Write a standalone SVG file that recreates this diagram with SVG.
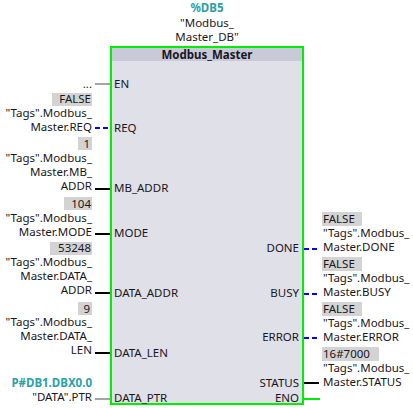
<svg xmlns="http://www.w3.org/2000/svg" width="413" height="408" viewBox="0 0 413 408">
<defs>
<linearGradient id="ulL" x1="0" y1="0" x2="1" y2="0"><stop offset="0" stop-color="#ffffff" stop-opacity="0.95"/><stop offset="1" stop-color="#ffffff" stop-opacity="0.2"/></linearGradient>
<linearGradient id="ulR" x1="0" y1="0" x2="1" y2="0"><stop offset="0" stop-color="#ffffff" stop-opacity="0.2"/><stop offset="1" stop-color="#ffffff" stop-opacity="0.95"/></linearGradient>
</defs>
<style>
text{font-family:"Noto Sans","DejaVu Sans",sans-serif;font-size:11.5px;fill:#1a1620}
.e{text-anchor:end}
.m{text-anchor:middle}
.t{fill:#2aa0aa;font-weight:bold}
.b{font-weight:bold}
.v{fill:#d3d3d3}
.blk{stroke:#000;stroke-width:2}
.gry{stroke:#a3a3a3;stroke-width:2}
.blu{stroke:#0000ff;stroke-width:2;stroke-dasharray:5,3}
.grn{stroke:#00ee00;stroke-width:2}
.ul{stroke-width:1}
</style>
<g id="block">
<rect x="111" y="47" width="192" height="357" fill="#dfe0e8" stroke="#00ee00" stroke-width="2"/>
<rect x="112" y="48" width="190" height="13" fill="#c9cad8"/>
<text class="m b" x="207" y="59">Modbus_Master</text>
<text class="m t" x="207" y="12">%DB5</text>
<text class="m" x="207" y="27">"Modbus_</text>
<text class="m" x="207" y="41">Master_DB"</text>
<text x="114" y="88">EN</text>
<line class="ul" x1="114" y1="91.5" x2="138" y2="91.5" stroke="url(#ulL)"/>
<text x="114" y="132">REQ</text>
<line class="ul" x1="114" y1="135.5" x2="140" y2="135.5" stroke="url(#ulL)"/>
<text x="114" y="192">MB_ADDR</text>
<line class="ul" x1="114" y1="195.5" x2="166" y2="195.5" stroke="url(#ulL)"/>
<text x="114" y="237">MODE</text>
<line class="ul" x1="114" y1="240.5" x2="148" y2="240.5" stroke="url(#ulL)"/>
<text x="114" y="297">DATA_ADDR</text>
<line class="ul" x1="114" y1="300.5" x2="176" y2="300.5" stroke="url(#ulL)"/>
<text x="114" y="357">DATA_LEN</text>
<line class="ul" x1="114" y1="360.5" x2="168" y2="360.5" stroke="url(#ulL)"/>
<text x="114" y="402">DATA_PTR</text>
<text class="e" x="299" y="252">DONE</text>
<line class="ul" x1="266" y1="256.5" x2="299" y2="256.5" stroke="url(#ulR)"/>
<text class="e" x="299" y="297">BUSY</text>
<line class="ul" x1="270" y1="300.5" x2="299" y2="300.5" stroke="url(#ulR)"/>
<text class="e" x="299" y="341">ERROR</text>
<line class="ul" x1="264" y1="345.5" x2="299" y2="345.5" stroke="url(#ulR)"/>
<text class="e" x="299" y="387">STATUS</text>
<line class="ul" x1="260" y1="391.5" x2="299" y2="391.5" stroke="url(#ulR)"/>
<text class="e" x="299" y="402">ENO</text>
</g>
<g id="in_EN"><text class="e" x="92" y="88">...</text></g>
<g id="in_REQ">
<rect class="v" x="52" y="93" width="40" height="13"/>
<text class="e" x="91" y="103">FALSE</text>
<text class="e" x="92" y="117">"Tags".Modbus_</text>
<text class="e" x="92" y="131">Master.REQ</text>
</g>
<g id="in_MB_ADDR">
<rect class="v" x="78" y="137" width="14" height="13"/>
<text class="e" x="90" y="147.5">1</text>
<text class="e" x="92" y="162">"Tags".Modbus_</text>
<text class="e" x="92" y="176">Master.MB_</text>
<text class="e" x="92" y="190">ADDR</text>
</g>
<g id="in_MODE">
<rect class="v" x="64" y="197" width="28" height="13"/>
<text class="e" x="91" y="207.5">104</text>
<text class="e" x="92" y="222">"Tags".Modbus_</text>
<text class="e" x="92" y="236">Master.MODE</text>
</g>
<g id="in_DATA_ADDR">
<rect class="v" x="50" y="242" width="42" height="13"/>
<text class="e" x="91" y="252">53248</text>
<text class="e" x="92" y="266">"Tags".Modbus_</text>
<text class="e" x="92" y="280">Master.DATA_</text>
<text class="e" x="92" y="294">ADDR</text>
</g>
<g id="in_DATA_LEN">
<rect class="v" x="78" y="302" width="14" height="13"/>
<text class="e" x="90" y="312.5">9</text>
<text class="e" x="92" y="326">"Tags".Modbus_</text>
<text class="e" x="92" y="340">Master.DATA_</text>
<text class="e" x="92" y="354">LEN</text>
</g>
<g id="in_DATA_PTR">
<text class="e t" x="92" y="387">P#DB1.DBX0.0</text>
<text class="e" x="92" y="401">"DATA".PTR</text>
</g>
<g id="out_DONE">
<rect class="v" x="322" y="212" width="40" height="14"/>
<text x="323" y="223">FALSE</text>
<text x="323" y="237">"Tags".Modbus_</text>
<text x="323" y="251">Master.DONE</text>
</g>
<g id="out_BUSY">
<rect class="v" x="322" y="257" width="40" height="14"/>
<text x="323" y="268">FALSE</text>
<text x="323" y="282">"Tags".Modbus_</text>
<text x="323" y="296">Master.BUSY</text>
</g>
<g id="out_ERROR">
<rect class="v" x="322" y="302" width="40" height="14"/>
<text x="323" y="313">FALSE</text>
<text x="323" y="327">"Tags".Modbus_</text>
<text x="323" y="341">Master.ERROR</text>
</g>
<g id="out_STATUS">
<rect class="v" x="322" y="347" width="57" height="14"/>
<text x="323" y="358">16#7000</text>
<text x="323" y="372">"Tags".Modbus_</text>
<text x="323" y="386">Master.STATUS</text>
</g>
<g id="connectors">
<line class="gry" x1="95" y1="84" x2="110" y2="84"/>
<line class="blu" x1="95" y1="128" x2="110" y2="128"/>
<line class="blk" x1="95" y1="189" x2="110" y2="189"/>
<line class="blk" x1="95" y1="234" x2="110" y2="234"/>
<line class="blk" x1="95" y1="293" x2="110" y2="293"/>
<line class="blk" x1="95" y1="353" x2="110" y2="353"/>
<line class="gry" x1="95" y1="399" x2="110" y2="399"/>
<line class="blu" x1="304" y1="249" x2="319" y2="249"/>
<line class="blu" x1="304" y1="294" x2="319" y2="294"/>
<line class="blu" x1="304" y1="338" x2="319" y2="338"/>
<line class="blk" x1="304" y1="383" x2="319" y2="383"/>
<line class="grn" x1="304" y1="399" x2="320" y2="399"/>
</g>
</svg>
